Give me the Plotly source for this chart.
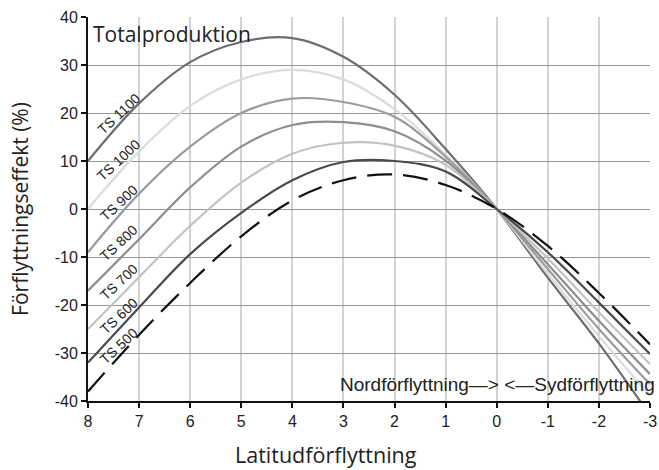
import plotly.graph_objects as go
import numpy as np

# Data
x_vals = [8, 7, 6, 5, 4, 3, 2, 1, 0, -1, -2, -3]
series_names = ["TS 1100", "TS 1000", "TS 900", "TS 800", "TS 700", "TS 600", "TS 500"]
ts1100 = [10, 22, 30.6, 34.8, 35.6, 31.7, 23.8, 12.5, 0, -14.3, -28, -43]
ts1000 = [0, 12, 21.5, 27, 29, 27, 20.8, 11.3, 0, -13.5, -26.5, -38.9]
ts900 = [-9, 3.2, 13, 20, 23, 22.3, 19.2, 10.9, 0, -12.5, -25, -36.5]
ts800 = [-17, -6.3, 4.5, 13, 17.5, 18.1, 16.2, 10.1, 0, -11.5, -23.3, -34.4]
ts700 = [-25, -14.2, -3.5, 5.5, 11.5, 13.8, 13.2, 9.2, 0, -10.3, -21.5, -32.3]
ts600 = [-32, -20.5, -9.4, -0.8, 6.0, 9.8, 10, 7.8, 0, -9, -19.5, -30.2]
ts500 = [-38, -26.2, -15.4, -5.7, 1.8, 6, 7.2, 5.0, 0, -7.7, -17.5, -28.2]
series_values = [ts1100, ts1000, ts900, ts800, ts700, ts600, ts500]

x_tick_vals = [8, 7, 6, 5, 4, 3, 2, 1, 0, -1, -2, -3]
x_tick_text = ["8", "7", "6", "5", "4", "3", "2", "1", "0", "-1", "-2", "-3"]
y_tick_vals = [40, 30, 20, 10, 0, -10, -20, -30, -40]
y_tick_text = ["40", "30", "20", "10", "0", "-10", "-20", "-30", "-40"]

colors = ["#6e6e6e", "#dcdcdc", "#9c9c9c", "#8e8e8e", "#c2c2c2", "#4a4a4a", "#111111"]
dashes = ["solid"] * 6 + ["25px,11px"]
label_offsets = [2.6, 3.0, 3.0, 3.5, 3.4, 2.9, 2.4]

fig = go.Figure()
for name, vals, col, dsh in zip(series_names, series_values, colors, dashes):
    fig.add_trace(go.Scatter(
        x=x_vals, y=vals, mode="lines", name=name,
        line=dict(color=col, width=2.2, dash=dsh, shape="spline", smoothing=1.0),
        hoverinfo="skip", showlegend=False,
    ))

# Curve labels, placed just above each curve near the left edge
label_x = 7.4
xs_asc = x_vals[::-1]
for name, vals, off in zip(series_names, series_values, label_offsets):
    yv = float(np.interp(label_x, xs_asc, vals[::-1])) + off
    fig.add_annotation(
        x=label_x, y=yv, text=name, showarrow=False, textangle=-43,
        font=dict(family="Liberation Sans, Arial", size=14, color="#222"),
        xanchor="center", yanchor="middle",
    )

fig.add_annotation(
    xref="paper", yref="paper", x=0.006, y=0.955, text="Totalproduktion",
    showarrow=False, xanchor="left", yanchor="middle",
    font=dict(family="Open Sans", size=21, color="#222"),
)
fig.add_annotation(
    xref="paper", yref="paper", x=1.0125, y=0.044,
    text="Nordförflyttning—> <—Sydförflyttning",
    showarrow=False, xanchor="right", yanchor="middle",
    font=dict(family="Liberation Sans, Arial", size=19, color="#222"),
)
fig.add_annotation(
    xref="paper", yref="paper", x=(326 - 88) / 562, y=-0.14,
    text="Latitudförflyttning",
    showarrow=False, xanchor="center", yanchor="middle",
    font=dict(family="Open Sans", size=21.5, color="#222"),
)

fig.update_layout(
    width=659, height=470,
    margin=dict(l=88, r=9, t=17, b=69, autoexpand=False),
    paper_bgcolor="white", plot_bgcolor="white",
    xaxis=dict(
        range=[8, -3], tickvals=x_tick_vals, ticktext=x_tick_text,
        automargin=False,
        showgrid=True, gridcolor="#d2d2d2", gridwidth=1.5,
        zeroline=False, showline=True, linecolor="#111", linewidth=2,
        ticks="outside", ticklen=5, tickcolor="#111", tickwidth=1.5,
        tickfont=dict(family="Liberation Sans, Arial", size=16, color="#222"),
    ),
    yaxis=dict(
        range=[-40, 40], tickvals=y_tick_vals, ticktext=y_tick_text,
        automargin=False,
        showgrid=True, gridcolor="#999999", gridwidth=1.2,
        zeroline=False, showline=True, linecolor="#111", linewidth=2,
        ticks="outside", ticklen=5, tickcolor="#111", tickwidth=1.5,
        tickfont=dict(family="Liberation Sans, Arial", size=16, color="#222"),
        title=dict(text="Förflyttningseffekt (%)", standoff=20,
                   font=dict(family="Open Sans", size=21, color="#222")),
    ),
)

fig.write_html("out.html")
